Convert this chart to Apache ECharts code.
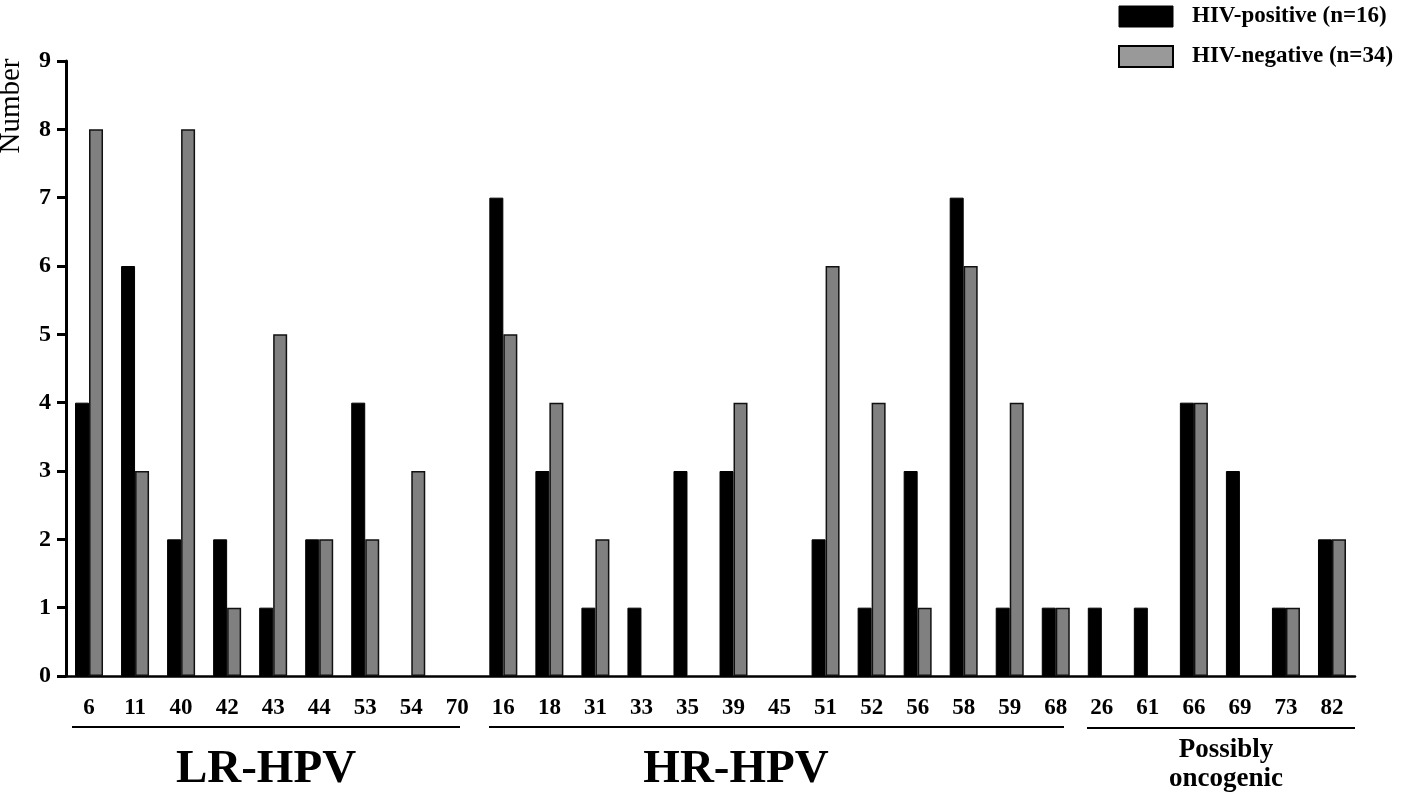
<html>
<head>
<meta charset="utf-8">
<script src="https://cdn.jsdelivr.net/npm/echarts@6/dist/echarts.min.js"></script>
<style>
  html, body { margin: 0; padding: 0; background: #fff; }
  #main { width: 1418px; height: 800px; }
</style>
</head>
<body>
<div id="main"></div>
<script>
// HPV types on the x axis, grouped LR / HR / possibly oncogenic
var hpvTypes = ['6','11','40','42','43','44','53','54','70',
                '16','18','31','33','35','39','45','51','52','56','58','59','68',
                '26','61','66','69','73','82'];
var hivPositive = [4,6,2,2,1,2,4,0,0,
                   7,3,1,1,3,3,0,2,1,3,7,1,1,
                   1,1,4,3,1,2];
var hivNegative = [8,3,8,1,5,2,2,3,0,
                   5,4,2,0,0,4,0,6,4,1,6,4,1,
                   0,0,4,0,1,2];
var yTicks = [0,1,2,3,4,5,6,7,8,9];

var serif = '"Liberation Serif", "Times New Roman", serif';
var chart = echarts.init(document.getElementById('main'));

// zero counts draw no bar (otherwise the border leaves a stub on the axis)
function noZero(arr) {
  return arr.map(function (v) { return v === 0 ? '-' : v; });
}

var option = {
  animation: false,
  grid: { left: 66, right: 63, top: 61, bottom: 124 },
  legend: {
    orient: 'vertical',
    left: 1113,
    top: 0,
    icon: 'rect',
    itemWidth: 54,
    itemHeight: 21,
    itemGap: 17,
    textStyle: { fontFamily: serif, fontWeight: 'bold', fontSize: 23, color: '#000', padding: [0, 0, 0, 14] },
    data: [
      { name: 'HIV-positive (n=16)', itemStyle: { color: '#000', borderColor: '#000', borderWidth: 1 } },
      { name: 'HIV-negative (n=34)', itemStyle: { color: '#999', borderColor: '#000', borderWidth: 2 } }
    ]
  },
  xAxis: {
    type: 'category',
    data: hpvTypes,
    axisLine: { lineStyle: { color: '#000', width: 2.5 } },
    axisTick: { show: false },
    axisLabel: { fontFamily: serif, fontWeight: 'bold', fontSize: 23, color: '#000', margin: 21, interval: 0 }
  },
  yAxis: {
    type: 'value',
    min: yTicks[0],
    max: yTicks[yTicks.length - 1],
    interval: 1,
    splitLine: { show: false },
    axisLine: { show: true, lineStyle: { color: '#000', width: 3 } },
    axisTick: { show: true, inside: false, length: 9, lineStyle: { color: '#000', width: 3 } },
    axisLabel: { fontFamily: serif, fontWeight: 'bold', fontSize: 24, color: '#000', margin: 15 }
  },
  series: [
    {
      name: 'HIV-positive (n=16)',
      type: 'bar',
      data: noZero(hivPositive),
      barWidth: 14,
      barGap: '0%',
      itemStyle: { color: '#000', borderColor: '#000', borderWidth: 1 }
    },
    {
      name: 'HIV-negative (n=34)',
      type: 'bar',
      data: noZero(hivNegative),
      barWidth: 14,
      itemStyle: { color: '#808080', borderColor: '#111', borderWidth: 1.5 }
    }
  ],
  graphic: [
    {
      type: 'text', x: 11, y: 106, rotation: Math.PI / 2,
      style: { text: 'Number', font: '29px ' + serif, fill: '#000', align: 'center', verticalAlign: 'middle' }
    },
    // group underlines
    { type: 'line', shape: { x1: 72, y1: 727, x2: 460, y2: 727 }, style: { stroke: '#000', lineWidth: 2 } },
    { type: 'line', shape: { x1: 489, y1: 727, x2: 1064, y2: 727 }, style: { stroke: '#000', lineWidth: 2 } },
    { type: 'line', shape: { x1: 1087, y1: 728, x2: 1355, y2: 728 }, style: { stroke: '#000', lineWidth: 2 } },
    {
      type: 'text', x: 266, y: 770,
      style: { text: 'LR-HPV', font: 'bold 47px ' + serif, fill: '#000', align: 'center', verticalAlign: 'middle' }
    },
    {
      type: 'text', x: 736, y: 770,
      style: { text: 'HR-HPV', font: 'bold 47px ' + serif, fill: '#000', align: 'center', verticalAlign: 'middle' }
    },
    {
      type: 'text', x: 1226, y: 765,
      style: { text: 'Possibly\noncogenic', font: 'bold 27px ' + serif, lineHeight: 29, fill: '#000', align: 'center', verticalAlign: 'middle' }
    }
  ]
};

chart.setOption(option);
</script>
</body>
</html>
